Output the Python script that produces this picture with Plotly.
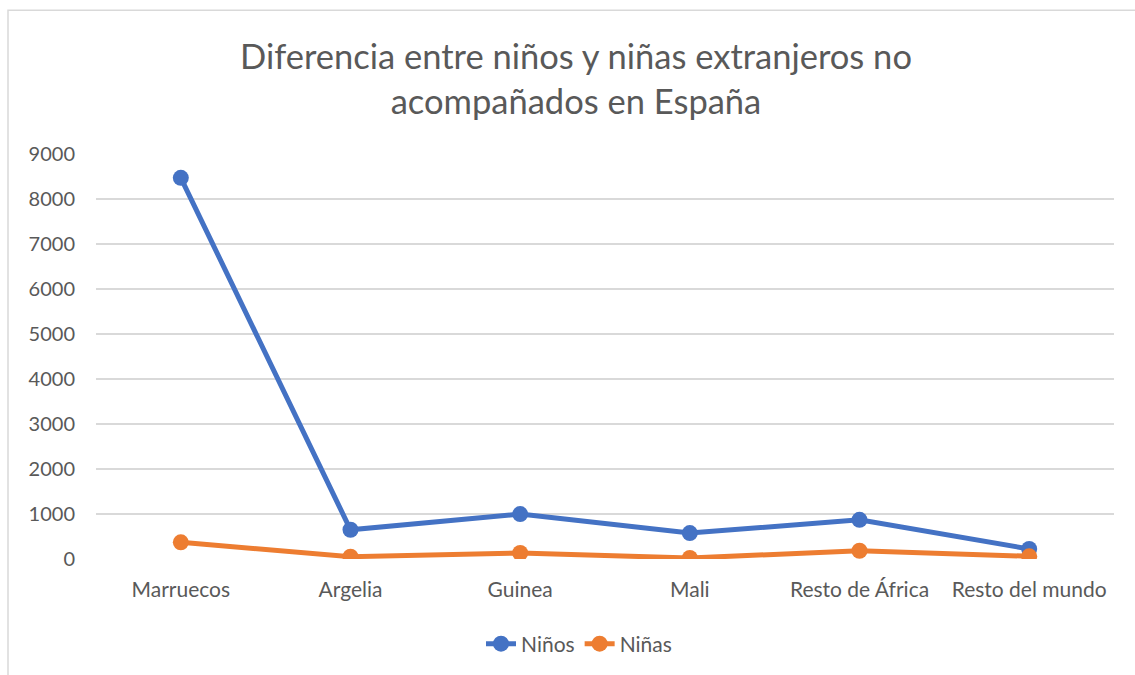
import plotly.graph_objects as go

categories = ["Marruecos", "Argelia", "Guinea", "Mali", "Resto de África", "Resto del mundo"]
ninos = [8470, 650, 998, 576, 871, 222]
ninas = [370, 51, 133, 22, 184, 60]
y_ticks = [0, 1000, 2000, 3000, 4000, 5000, 6000, 7000, 8000, 9000]

FONT = "Lato, 'Open Sans', sans-serif"
GREY = "#595959"

fig = go.Figure()
fig.add_trace(go.Scatter(
    x=categories, y=ninos, name="Niños", mode="lines+markers",
    line=dict(color="#4472C4", width=5),
    marker=dict(size=16, color="#4472C4"),
))
fig.add_trace(go.Scatter(
    x=categories, y=ninas, name="Niñas", mode="lines+markers",
    line=dict(color="#ED7D31", width=5),
    marker=dict(size=16, color="#ED7D31"),
))

# light border round the chart area
W, H = 1135, 675
ml, mr, mt, mb = 96, 21, 154, 115
pw, ph = W - ml - mr, H - mt - mb
fig.add_shape(type="rect", xref="paper", yref="paper",
              x0=(8 - ml) / pw, x1=(1150 - ml) / pw,
              y0=(H - mb - 690) / ph, y1=(H - mb - 10) / ph,
              line=dict(color="#D9D9D9", width=1.5), layer="below")

fig.update_layout(
    width=W, height=H,
    margin=dict(l=ml, r=mr, t=mt, b=mb),
    paper_bgcolor="white", plot_bgcolor="white",
    font=dict(family=FONT, color=GREY, size=20),
    title=dict(text="Diferencia entre niños y niñas extranjeros no<br>acompañados en España",
               x=576 / W, xanchor="center", y=1 - 69 / H, yanchor="middle",
               font=dict(size=34.5, color=GREY, family=FONT)),
    xaxis=dict(range=[-0.5, 5.5], showgrid=False, showline=False, ticks="", zeroline=False,
               ticklabelstandoff=16, tickfont=dict(size=21, color=GREY)),
    yaxis=dict(range=[0, 9000], tickvals=y_ticks, showgrid=True, gridcolor="#D9D9D9",
               gridwidth=1.5, zeroline=False, showline=False, ticks="",
               ticklabelstandoff=20, tickfont=dict(size=20, color=GREY)),
    legend=dict(orientation="h", x=(579 - ml) / pw, xanchor="center",
                y=(H - mb - 644) / ph, yanchor="middle",
                font=dict(size=21, color=GREY)),
    showlegend=True,
)

fig.write_html("out.html", config={"displayModeBar": False},
               post_script="document.body.style.margin='0';document.body.style.overflow='hidden';")
